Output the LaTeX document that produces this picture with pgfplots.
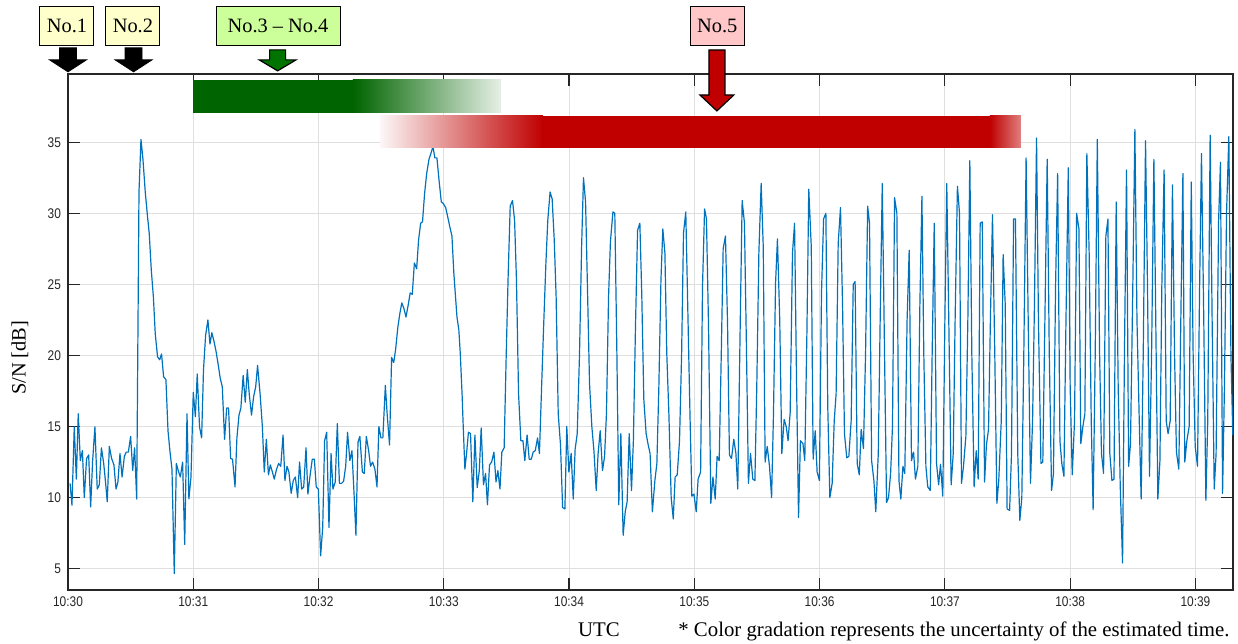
\documentclass[border=0pt]{standalone}
\usepackage{fontspec}
\setmainfont{Liberation Serif}
\newfontfamily\tickfont[FakeStretch=0.85]{Liberation Sans}
\usepackage{pgfplots}
\pgfplotsset{compat=1.18}
\usetikzlibrary{calc}

\definecolor{mblue}{RGB}{0,114,189}
\definecolor{gbar}{RGB}{0,100,0}
\definecolor{rbar}{RGB}{192,0,0}
\definecolor{ybox}{RGB}{255,255,204}
\definecolor{gbox}{RGB}{204,255,153}
\definecolor{rbox}{RGB}{255,199,199}
\definecolor{garrow}{RGB}{0,115,0}

\begin{document}
\begin{tikzpicture}
\begin{axis}[
  name=ax,
  scale only axis,
  width=582.5bp, height=258bp,
  xmin=0, xmax=558, ymin=3.5, ymax=39.8,
  xtick={0,60,...,540},
  xticklabels={10:30,10:31,10:32,10:33,10:34,10:35,10:36,10:37,10:38,10:39},
  ytick={5,10,...,35},
  grid=major,
  grid style={gray!25, line width=0.4bp},
  tick align=inside,
  major tick length=6bp,
  axis line style={black!85, line width=0.6bp},
  tick style={black!85, line width=0.6bp},
  tick label style={font=\tickfont\fontsize{7bp}{8bp}\selectfont, text=black!85},
  /pgf/number format/assume math mode=true,
  clip=false,
]
\addplot[mblue, line width=0.6bp, line join=round, mark=none] coordinates {
(1.0,11.0)(1.9,9.46)(3.0,14.98)(4.0,11.3)(4.9,15.9)(5.9,12.6)(6.9,13.3)(7.8,10.0)(8.9,12.75)(9.9,13.0)
(10.85,9.34)(11.8,12.6)(12.9,14.98)(14.0,10.6)(15.0,10.9)(16.0,13.5)(17.1,12.4)(17.9,11.2)(18.8,9.7)(19.8,13.6)
(20.9,12.75)(22.0,12.3)(23.0,10.6)(23.9,11.1)(24.9,13.1)(25.9,11.45)(27.0,12.9)(27.9,13.2)(28.9,13.2)(30.0,14.3)
(31.0,11.9)(31.9,13.5)(32.9,9.9)(34.0,31.5)(34.95,35.2)(35.9,33.8)(37.0,31.5)(38.0,29.9)(38.9,28.6)(39.9,26.0)
(40.9,24.1)(41.8,21.5)(42.9,19.9)(43.9,19.7)(44.8,20.1)(45.8,18.5)(46.9,18.3)(47.9,14.7)(48.8,13.3)(49.8,12.0)
(50.9,4.65)(51.9,12.4)(52.8,11.9)(53.8,11.45)(54.9,12.5)(55.9,6.7)(57.0,15.9)(57.9,9.9)(58.9,11.45)(60.0,17.4)
(61.0,15.7)(61.9,18.7)(63.0,14.98)(64.0,14.2)(64.9,19.0)(65.9,21.4)(67.0,22.5)(68.0,20.8)(68.9,21.6)(69.9,21.0)
(70.9,20.3)(72.0,19.3)(72.9,18.4)(73.9,17.8)(75.0,14.1)(76.0,16.3)(76.9,16.3)(77.9,12.75)(78.8,12.7)(80.0,10.75)
(80.9,14.2)(81.9,15.8)(82.8,16.3)(83.9,18.6)(84.9,16.7)(85.9,19.0)(86.8,17.3)(87.9,15.8)(88.9,17.1)(89.9,17.8)
(90.8,19.3)(92.0,17.3)(93.1,15.0)(94.0,11.8)(95.0,14.1)(96.0,11.6)(96.9,12.3)(97.9,11.8)(98.8,11.3)(99.9,12.0)
(100.9,12.4)(101.9,12.2)(103.0,14.4)(103.9,11.2)(104.9,12.2)(105.8,11.8)(106.9,10.3)(107.9,11.2)(108.9,11.45)(110.0,10.0)
(110.9,12.5)(111.9,10.6)(112.9,10.75)(114.0,13.5)(114.9,10.25)(115.9,11.5)(117.0,12.7)(118.0,12.7)(118.9,10.75)(119.9,10.6)
(121.0,5.9)(122.0,7.9)(122.9,14.0)(123.9,14.6)(125.0,7.9)(126.0,13.1)(126.9,10.6)(128.0,11.1)(129.0,15.2)(130.0,11.0)
(131.0,11.0)(132.0,11.15)(133.0,12.2)(133.9,14.6)(135.0,12.6)(136.0,13.3)(137.0,10.3)(137.9,7.35)(138.9,13.9)(139.8,14.3)
(141.0,11.8)(141.9,11.7)(142.9,14.3)(144.0,13.3)(144.9,12.2)(145.9,12.5)(147.0,12.0)(148.0,10.75)(148.9,15.0)(149.9,14.2)
(150.8,14.2)(152.0,17.9)(152.9,15.8)(154.0,13.7)(155.0,19.86)(156.0,19.5)(156.9,20.4)(158.0,22.0)(159.0,23.0)(159.9,23.7)
(160.9,23.3)(161.9,22.7)(163.0,23.6)(163.9,24.4)(164.9,24.3)(165.9,26.5)(167.0,26.1)(167.9,28.1)(168.9,29.3)(169.8,29.4)
(170.8,31.4)(171.8,32.8)(172.9,33.8)(173.8,34.2)(174.8,34.7)(175.7,33.9)(176.7,33.9)(177.8,32.2)(178.8,30.8)(179.7,30.7)
(180.9,30.4)(181.8,29.8)(182.8,29.1)(183.9,28.4)(184.8,25.8)(186.3,22.7)(187.2,21.8)(187.9,20.1)(188.8,17.1)(189.3,15.0)
(190.1,12.0)(190.9,13.1)(191.8,14.6)(192.8,14.5)(193.9,9.7)(194.9,14.4)(196.0,10.7)(197.0,11.9)(197.9,14.9)(199.0,10.9)
(200.0,11.7)(200.9,9.5)(201.9,12.3)(202.9,12.5)(204.0,13.2)(205.0,11.1)(205.9,11.9)(206.9,10.6)(207.8,13.2)(208.9,13.5)
(209.9,20.1)(210.8,25.5)(211.8,30.5)(212.9,30.9)(213.9,29.5)(214.8,25.3)(215.8,17.3)(216.9,14.0)(217.9,14.0)(218.8,12.6)
(219.9,14.4)(220.9,12.7)(221.9,12.7)(222.8,13.2)(223.8,13.3)(224.9,14.2)(225.8,13.1)(226.8,17.6)(227.8,22.0)(228.9,26.5)
(229.8,29.5)(230.9,31.5)(231.9,31.0)(232.9,28.1)(233.8,24.1)(234.8,15.9)(235.9,13.7)(236.9,9.3)(238.0,9.2)(238.9,15.0)
(239.9,11.8)(241.0,13.1)(242.0,9.9)(242.9,13.4)(243.9,14.5)(245.0,20.1)(246.0,27.65)(246.9,32.5)(247.9,30.8)(248.8,24.8)
(249.8,18.0)(250.9,15.0)(251.9,13.3)(253.0,10.5)(253.9,13.1)(254.9,14.7)(256.0,11.9)(257.0,12.9)(257.9,15.9)(258.9,24.1)
(259.8,28.0)(261.0,30.1)(261.9,30.0)(262.9,20.1)(263.8,9.5)(264.8,14.5)(265.9,7.35)(266.9,9.0)(267.8,9.7)(268.8,14.5)
(269.9,10.5)(270.8,14.0)(271.8,22.0)(272.8,28.8)(273.9,29.3)(274.8,24.4)(275.8,16.9)(276.9,14.5)(277.9,13.7)(278.8,13.1)
(279.9,9.0)(281.1,11.2)(282.05,12.4)(283.0,17.8)(284.0,25.3)(284.9,28.9)(285.9,27.2)(286.8,20.1)(287.8,15.9)(288.9,10.0)
(289.9,8.5)(290.8,11.45)(291.8,11.6)(292.9,14.0)(293.9,20.1)(294.8,28.6)(295.9,30.1)(296.9,23.0)(297.9,15.9)(298.8,10.1)
(299.8,10.25)(300.9,9.0)(301.8,11.3)(303.0,11.8)(303.9,24.8)(304.9,30.3)(305.8,29.6)(306.8,22.0)(307.9,9.6)(308.9,11.45)
(310.0,9.9)(310.9,12.9)(311.9,12.6)(312.9,20.1)(313.8,27.5)(314.9,28.4)(315.9,22.25)(316.8,13.0)(317.8,12.75)(318.9,14.1)
(319.9,13.1)(320.8,10.6)(322.0,22.5)(322.9,30.9)(324.0,29.3)(325.0,20.1)(325.9,11.0)(326.9,13.1)(328.0,11.3)(329.0,11.2)
(329.9,17.8)(330.9,27.2)(332.0,32.1)(333.0,27.65)(333.9,12.5)(334.9,13.6)(336.0,12.2)(337.0,10.0)(337.9,15.9)(338.9,25.1)
(339.8,28.2)(340.9,22.5)(341.9,13.1)(343.0,15.5)(344.0,15.0)(344.9,14.0)(345.9,16.0)(347.0,27.2)(348.0,29.3)(348.9,18.7)
(349.9,8.6)(350.8,14.0)(352.0,13.8)(352.9,12.6)(353.9,21.5)(354.8,31.7)(356.0,27.65)(356.9,12.7)(357.9,14.7)(358.8,11.8)
(359.9,11.2)(360.9,24.4)(361.9,29.6)(363.0,30.0)(363.9,16.4)(364.9,10.0)(366.0,11.0)(367.0,15.4)(367.9,17.3)(368.9,27.9)
(370.0,30.4)(371.0,23.4)(371.9,14.5)(373.0,12.8)(374.0,12.9)(375.1,15.4)(376.1,25.0)(377.0,25.2)(378.0,12.4)(379.0,11.6)
(379.9,14.8)(381.0,13.45)(382.0,20.1)(383.0,30.5)(383.9,29.3)(384.9,12.6)(386.0,11.2)(386.9,9.0)(388.1,13.1)(389.0,22.5)
(390.0,32.1)(391.1,20.1)(392.05,9.65)(393.0,10.0)(394.0,11.7)(394.9,15.0)(395.9,31.1)(397.0,30.0)(398.0,11.2)(398.9,9.9)
(399.9,12.2)(400.8,11.7)(401.9,22.5)(402.9,27.4)(404.0,12.6)(405.0,13.2)(405.9,11.3)(407.05,12.2)(408.0,23.4)(409.0,31.2)
(409.9,20.1)(410.9,12.2)(411.8,10.75)(413.0,10.5)(413.9,20.1)(414.9,29.3)(416.0,12.4)(417.0,10.9)(417.9,12.35)(419.0,10.1)
(420.0,22.5)(420.9,32.1)(422.1,20.1)(423.0,10.9)(424.0,13.1)(424.9,22.5)(426.0,31.9)(427.0,30.0)(427.95,11.0)(428.9,12.2)
(430.05,14.3)(431.0,22.5)(431.95,33.7)(432.9,20.1)(434.0,10.75)(435.0,13.3)(435.95,11.3)(436.9,29.3)(437.9,29.4)(439.0,11.1)
(439.9,13.7)(440.9,14.8)(441.8,22.5)(442.8,29.9)(443.9,20.1)(444.9,9.6)(445.8,11.2)(447.0,15.4)(447.9,27.1)(448.9,23.6)
(449.8,9.2)(451.0,9.1)(451.9,13.1)(452.9,29.6)(453.8,29.6)(454.9,13.1)(455.9,8.4)(456.85,10.0)(457.8,20.1)(458.9,33.9)
(459.9,22.5)(461.0,11.0)(462.0,15.4)(462.9,23.6)(463.9,35.3)(464.8,22.5)(466.0,12.4)(466.9,12.5)(467.9,22.5)(469.0,33.8)
(470.0,20.1)(471.1,10.5)(472.0,11.7)(473.0,24.8)(474.0,32.8)(475.1,14.0)(476.0,12.4)(477.0,11.5)(478.0,22.5)(479.1,33.2)
(480.0,17.8)(481.0,11.6)(482.1,15.4)(483.1,30.0)(484.2,28.9)(485.1,13.8)(486.1,15.0)(487.05,15.9)(488.0,34.2)(489.1,27.2)
(490.1,15.4)(491.0,9.15)(492.0,20.1)(493.0,35.2)(494.1,20.1)(495.0,13.1)(496.0,11.7)(497.1,28.4)(498.1,29.6)(499.0,13.1)
(500.0,11.2)(501.0,11.3)(502.05,30.8)(503.0,17.8)(504.0,10.75)(505.1,5.4)(506.0,20.1)(507.0,33.05)(508.0,12.2)(508.9,13.8)
(510.0,24.8)(511.0,35.9)(512.0,22.5)(513.1,15.4)(514.0,9.9)(515.0,20.1)(516.1,35.1)(517.05,24.8)(518.0,11.5)(519.0,20.1)
(520.1,33.8)(521.0,22.5)(522.0,9.9)(523.0,12.6)(523.9,24.8)(525.0,33.05)(526.0,15.4)(526.9,14.5)(527.9,15.4)(529.0,32.0)
(530.0,20.1)(530.9,13.2)(532.05,12.0)(533.0,22.5)(534.0,32.8)(534.9,12.5)(535.9,14.0)(537.0,15.0)(538.0,32.2)(538.9,20.1)
(539.9,13.6)(541.0,12.2)(542.0,24.8)(542.9,34.2)(544.0,22.5)(545.0,9.8)(545.9,15.4)(547.05,35.5)(548.0,22.5)(549.0,10.6)
(549.9,13.1)(551.1,29.5)(552.0,33.6)(553.0,10.3)(553.9,17.8)(554.9,30.0)(556.0,35.4)(557.0,20.1)(557.9,14.4)
};

% uncertainty bars
\fill[gbar] (axis cs:60,37.08) rectangle (axis cs:137,39.39);
\shade[left color=gbar, right color=gbar!10] (axis cs:136.5,37.08) rectangle (axis cs:207.4,39.39);
\shade[left color=rbar!3, right color=rbar] (axis cs:149.4,34.62) rectangle (axis cs:227.5,36.85);
\fill[rbar] (axis cs:227,34.62) rectangle (axis cs:442,36.85);
\shade[left color=rbar, right color=rbar!50] (axis cs:441.5,34.62) rectangle (axis cs:456.4,36.85);

% arrow tips
\coordinate (t1) at (axis cs:0,39.95);
\coordinate (t2) at (axis cs:31.4,39.95);
\coordinate (t3) at (axis cs:100.4,40.02);
\coordinate (t5) at (axis cs:310.8,37.2);

\tikzset{lbl/.style={draw=black, line width=0.5bp, minimum height=19.5bp, inner sep=0pt,
  font=\fontsize{10.2bp}{12bp}\selectfont}}
\node[lbl, fill=ybox, minimum width=27bp] at (axis cs:-0.5,43.15) {No.1};
\node[lbl, fill=ybox, minimum width=27bp] at (axis cs:31.1,43.15) {No.2};
\node[lbl, fill=gbox, minimum width=62bp] at (axis cs:100.6,43.15) {No.3 – No.4};
\node[lbl, fill=rbox, minimum width=27bp] at (axis cs:311,43.15) {No.5};

\node[rotate=90, font=\fontsize{10.2bp}{12bp}\selectfont] at (axis description cs:-0.0412,0.45) {S/N [dB]};
\node[anchor=base, font=\fontsize{10.4bp}{12bp}\selectfont] at (axis description cs:0.4558,-0.0911) {UTC};
\node[anchor=base west, inner sep=0pt, font=\fontsize{10.4bp}{12bp}\selectfont] at (axis description cs:0.5236,-0.0911)
  {* Color gradation represents the uncertainty of the estimated time.};
\end{axis}

\draw[fill=black, line width=0.4bp] (t1) -- ++(9.25bp,6bp) -- ++(-5bp,0) -- ++(0,6bp)
  -- ++(-8.5bp,0) -- ++(0,-6bp) -- ++(-5bp,0) -- cycle;
\draw[fill=black, line width=0.4bp] (t2) -- ++(9.25bp,6bp) -- ++(-5bp,0) -- ++(0,6bp)
  -- ++(-8.5bp,0) -- ++(0,-6bp) -- ++(-5bp,0) -- cycle;
\draw[fill=garrow, line width=0.6bp] (t3) -- ++(9.2bp,5.5bp) -- ++(-5.2bp,0) -- ++(0,5bp)
  -- ++(-8bp,0) -- ++(0,-5bp) -- ++(-5.2bp,0) -- cycle;
\draw[fill=rbar, line width=0.6bp] (t5) -- ++(8.5bp,8bp) -- ++(-4.5bp,0) -- ++(0,22.5bp)
  -- ++(-8bp,0) -- ++(0,-22.5bp) -- ++(-4.5bp,0) -- cycle;

\path ($(ax.south west)+(-34bp,-25.5bp)$) rectangle ($(ax.north east)+(2.5bp,37bp)$);
\end{tikzpicture}
\end{document}
